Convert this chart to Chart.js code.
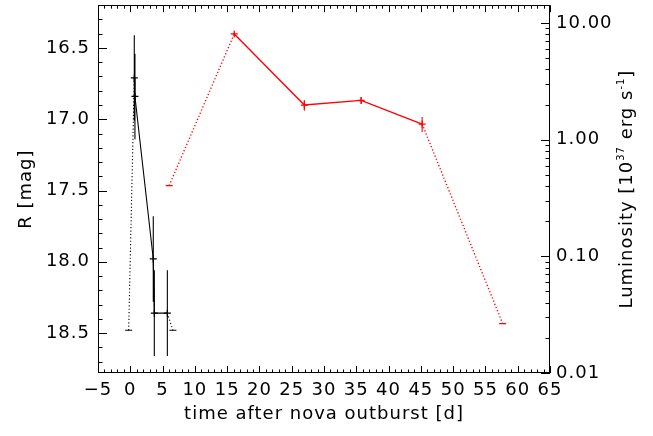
<!DOCTYPE html>
<html>
<head>
<meta charset="utf-8">
<script src="https://cdn.jsdelivr.net/npm/chart.js@4"></script>
<style>
  html, body { margin: 0; padding: 0; background: #fff; }
  #wrap { width: 653px; height: 436px; }
</style>
</head>
<body>
<div id="wrap"><canvas id="lc" width="653" height="436"></canvas></div>
<script>
// optical R band light curve (black, left axis)
const rTime  = [-0.25, 0.62, 0.72, 3.56, 3.72, 5.74, 6.6];
const rMag   = [18.48, 16.71, 16.84, 17.98, 18.36, 18.36, 18.48];
const rErr   = [0, 0.3, 0.3, 0.3, 0.3, 0.3, 0];
const rLimit = [true, false, false, false, false, false, true];

// luminosity (red, right axis), 10^37 erg/s
const lTime  = [6.02, 16.1, 26.95, 35.75, 45.2, 57.67];
const lLum   = [0.404, 8.05, 1.98, 2.17, 1.36, 0.0265];
const lErr   = [0, 0.25, 0.21, 0.14, 0.2, 0];
const lLimit = [true, false, false, false, false, true];

// tick labels
const xTicks   = [-5, 0, 5, 10, 15, 20, 25, 30, 35, 40, 45, 50, 55, 60, 65];
const magTicks = [16.5, 17.0, 17.5, 18.0, 18.5];
const lumTicks = [0.01, 0.1, 1, 10];

const FONT = "'DejaVu Sans', sans-serif";

function points(xs, ys) {
  return xs.map((x, i) => ({ x: x, y: ys[i] }));
}

// error bars as short vertical segments separated by gaps
function errBars(xs, ys, es, lim) {
  const out = [];
  xs.forEach((x, i) => {
    if (lim[i] || !es[i]) return;
    out.push({ x: x, y: ys[i] - es[i] }, { x: x, y: ys[i] + es[i] }, { x: x, y: null });
  });
  return out;
}

function lineDataset(xs, ys, lim, color, axis, width) {
  return {
    data: points(xs, ys),
    yAxisID: axis,
    showLine: true,
    borderColor: color,
    backgroundColor: color,
    borderWidth: width,
    pointStyle: lim.map(l => (l ? 'line' : 'cross')),
    pointRadius: 3.5,
    pointBorderWidth: 1.2,
    pointBorderColor: color,
    segment: {
      borderDash: ctx => (lim[ctx.p0DataIndex] || lim[ctx.p1DataIndex] ? [1.2, 2.2] : undefined)
    }
  };
}

function errDataset(xs, ys, es, lim, color, axis) {
  return {
    data: errBars(xs, ys, es, lim),
    yAxisID: axis,
    showLine: true,
    spanGaps: false,
    borderColor: color,
    borderWidth: 1.1,
    pointRadius: 0
  };
}

// wider letter spacing, closer to the plotting font of the original
const spacing = {
  id: 'spacing',
  beforeUpdate(chart) { chart.ctx.letterSpacing = '1px'; },
  beforeDraw(chart) { chart.ctx.letterSpacing = '1px'; }
};

// frame, inward tick marks and the right-hand title
const frame = {
  id: 'frame',
  afterDraw(chart) {
    const ctx = chart.ctx;
    const a = chart.chartArea;
    const sx = chart.scales.x, sy = chart.scales.y, sl = chart.scales.y2;
    ctx.save();
    ctx.strokeStyle = '#000';
    ctx.lineWidth = 1;
    ctx.strokeRect(Math.round(a.left) + 0.5, Math.round(a.top) + 0.5,
      Math.round(a.right - a.left) - 1, Math.round(a.bottom - a.top) - 1);

    ctx.beginPath();
    // x axis, top and bottom
    for (let v = -5; v <= 65; v++) {
      const px = Math.round(sx.getPixelForValue(v)) + 0.5;
      const len = v % 5 === 0 ? 7 : 3.5;
      ctx.moveTo(px, a.bottom); ctx.lineTo(px, a.bottom - len);
      ctx.moveTo(px, a.top); ctx.lineTo(px, a.top + len);
    }
    // left magnitude axis
    for (let k = 163; k <= 187; k++) {
      const v = k / 10;
      const py = Math.round(sy.getPixelForValue(v)) + 0.5;
      const len = k % 5 === 0 ? 9 : 4.5;
      ctx.moveTo(a.left, py); ctx.lineTo(a.left + len, py);
    }
    // right luminosity axis (log)
    for (let e = -2; e <= 1; e++) {
      for (let m = 1; m <= 9; m++) {
        const v = m * Math.pow(10, e);
        if (v > sl.max) break;
        const py = Math.round(sl.getPixelForValue(v)) + 0.5;
        const len = m === 1 ? 9 : 4.5;
        ctx.moveTo(a.right, py); ctx.lineTo(a.right - len, py);
      }
    }
    ctx.stroke();

    // right axis title, reading bottom to top, with superscripts
    const parts = [
      ['Luminosity [10', false], ['37', true], [' erg s', false], ['-1', true], [']', false]
    ];
    const big = '18px ' + FONT, small = '10px ' + FONT;
    let total = 0;
    parts.forEach(p => { ctx.font = p[1] ? small : big; total += ctx.measureText(p[0]).width; });
    ctx.translate(627, (a.top + a.bottom) / 2);
    ctx.rotate(-Math.PI / 2);
    ctx.fillStyle = '#000';
    ctx.textBaseline = 'middle';
    let cx = -total / 2;
    parts.forEach(p => {
      ctx.font = p[1] ? small : big;
      ctx.fillText(p[0], cx, p[1] ? -6 : 0);
      cx += ctx.measureText(p[0]).width;
    });
    ctx.restore();
  }
};

new Chart(document.getElementById('lc'), {
  type: 'scatter',
  data: {
    datasets: [
      lineDataset(rTime, rMag, rLimit, '#000', 'y', 1.1),
      errDataset(rTime, rMag, rErr, rLimit, '#000', 'y'),
      lineDataset(lTime, lLum, lLimit, '#ff0000', 'y2', 1.4),
      errDataset(lTime, lLum, lErr, lLimit, '#ff0000', 'y2')
    ]
  },
  options: {
    responsive: false,
    animation: false,
    layout: { padding: { top: 5, left: 0, right: 0, bottom: 0 } },
    plugins: { legend: { display: false }, tooltip: { enabled: false } },
    scales: {
      x: {
        type: 'linear',
        min: -5,
        max: 65,
        afterFit: s => { s.height = 63; s.paddingLeft = 0; s.paddingRight = 0; },
        afterBuildTicks: s => { s.ticks = xTicks.map(v => ({ value: v })); },
        grid: { display: false, drawTicks: false },
        border: { display: false },
        ticks: {
          autoSkip: false,
          maxRotation: 0,
          padding: 7,
          color: '#000',
          font: { family: FONT, size: 18 },
          callback: v => String(v).replace('-', '\u2212')
        },
        title: {
          display: true,
          text: 'time after nova outburst [d]',
          color: '#000',
          font: { family: FONT, size: 18 },
          padding: { top: 0, bottom: 11 }
        }
      },
      y: {
        type: 'linear',
        position: 'left',
        reverse: true,
        min: 16.2,
        max: 18.78,
        afterFit: s => { s.width = 98; s.paddingTop = 0; s.paddingBottom = 0; },
        afterBuildTicks: s => { s.ticks = magTicks.map(v => ({ value: v })); },
        grid: { display: false, drawTicks: false },
        border: { display: false },
        ticks: {
          padding: 8,
          color: '#000',
          font: { family: FONT, size: 18 },
          callback: v => Number(v).toFixed(1)
        },
        title: {
          display: true,
          text: 'R [mag]',
          color: '#000',
          font: { family: FONT, size: 18 },
          padding: { top: 16, bottom: 0 }
        }
      },
      y2: {
        type: 'logarithmic',
        position: 'right',
        min: 0.01,
        max: 14.2,
        afterFit: s => { s.width = 103; s.paddingTop = 0; s.paddingBottom = 0; },
        afterBuildTicks: s => { s.ticks = lumTicks.map(v => ({ value: v })); },
        grid: { display: false, drawTicks: false },
        border: { display: false },
        ticks: {
          padding: 6,
          color: '#000',
          font: { family: FONT, size: 18 },
          callback: v => Number(v).toFixed(2)
        }
      }
    }
  },
  plugins: [spacing, frame]
});
</script>
</body>
</html>
